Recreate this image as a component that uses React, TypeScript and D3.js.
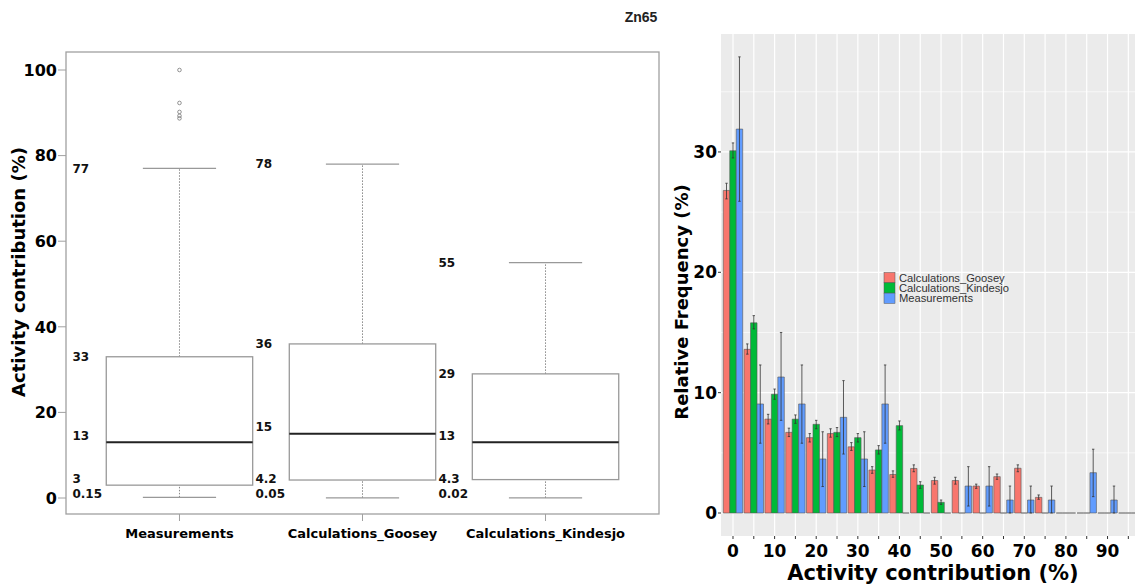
import React from 'react';
import * as d3 from 'd3';

// left panel: box plot summaries
const boxNames = ['Measurements', 'Calculations_Goosey', 'Calculations_Kindesjo'];
const boxMin = [0.15, 0.05, 0.02];
const boxQ1 = [3, 4.2, 4.3];
const boxMed = [13, 15, 13];
const boxQ3 = [33, 36, 29];
const boxMax = [77, 78, 55];
const boxOutliers = [[100, 92.3, 90.2, 89.3, 88.7], [], []];
const leftTicks = [0, 20, 40, 60, 80, 100];

// right panel: histogram, bins of 5
const bins = [0, 5, 10, 15, 20, 25, 30, 35, 40, 45, 50, 55, 60, 65, 70, 75, 80, 85, 90, 95];
const series = ['Calculations_Goosey', 'Calculations_Kindesjo', 'Measurements'];
const colors = ['#F8766D', '#00BA38', '#619CFF'];
const goosey = [26.8, 13.6, 7.8, 6.7, 6.26, 6.6, 5.5, 3.57, 3.2, 3.7, 2.7, 2.7, 2.24, 3.02, 3.72, 1.3, 0, 0, 0, 0];
const gooseyLo = [26.1, 13.2, 7.4, 6.35, 5.9, 6.3, 5.2, 3.3, 2.97, 3.43, 2.4, 2.4, 2.05, 2.8, 3.43, 1.14, null, null, null, null];
const gooseyHi = [27.4, 14.05, 8.2, 7.05, 6.6, 7.0, 5.85, 3.85, 3.5, 4.0, 2.97, 2.97, 2.4, 3.24, 4.0, 1.5, null, null, null, null];
const kindesjo = [30.1, 15.8, 9.87, 7.8, 7.37, 6.7, 6.26, 5.24, 7.26, 2.33, 0.89, 0, 0, 0, 0, 0, 0, 0, 0, 0];
const kindesjoLo = [29.5, 15.3, 9.45, 7.45, 7.0, 6.35, 5.9, 4.9, 6.9, 2.05, 0.72, null, null, null, null, null, null, null, null, null];
const kindesjoHi = [30.75, 16.4, 10.3, 8.15, 7.7, 7.1, 6.6, 5.6, 7.65, 2.6, 1.08, null, null, null, null, null, null, null, null, null];
const meas = [31.9, 9.06, 11.3, 9.06, 4.49, 7.95, 4.49, 9.06, 0, 0, 0, 2.24, 2.24, 1.08, 1.08, 1.08, 0, 3.35, 1.08, 0];
const measLo = [25.9, 5.8, 7.7, 5.8, 2.2, 4.9, 2.2, 5.8, null, null, null, 0.58, 0.58, 0, 0, 0, null, 1.36, 0, null];
const measHi = [37.9, 12.3, 15.0, 12.3, 6.75, 11.0, 6.75, 12.3, null, null, null, 3.85, 3.85, 2.24, 2.24, 2.24, null, 5.3, 2.24, null];
const rightYTicks = [0, 10, 20, 30];
const rightYMinor = [5, 15, 25, 35];
const rightXLabels = [0, 10, 20, 30, 40, 50, 60, 70, 80, 90];

const values = [goosey, kindesjo, meas];
const lows = [gooseyLo, kindesjoLo, measLo];
const highs = [gooseyHi, kindesjoHi, measHi];

const boldFont = '"DejaVu Sans", Verdana, sans-serif';
const sansFont = '"Liberation Sans", Arial, sans-serif';

function BoxPanel() {
  const x = d3.scaleLinear().domain([0.38, 3.62]).range([66, 659]);
  const y = d3.scaleLinear().domain([0, 100]).range([498, 70]);
  const half = x(1.4) - x(1);

  return (
    <g>
      <rect x={66} y={52} width={593} height={462} fill="none" stroke="#a0a0a0" strokeWidth={1.3} />
      {leftTicks.map(t => (
        <g key={t}>
          <line x1={58} x2={66} y1={y(t)} y2={y(t)} stroke="#a0a0a0" />
          <text x={57} y={y(t)} dy="0.36em" textAnchor="end" fontFamily={boldFont} fontWeight="bold" fontSize={16}>{t}</text>
        </g>
      ))}
      <text transform={`translate(19,272) rotate(-90)`} textAnchor="middle" dy="0.35em" fontFamily={boldFont} fontWeight="bold" fontSize={18}>Activity contribution (%)</text>
      {boxNames.map((name, i) => {
        const cx = x(i + 1);
        const lx = x(i + 1 - 0.585);
        const minLabelY = y(boxMin[i]) - 4;
        return (
          <g key={name}>
            <line x1={cx} x2={cx} y1={y(boxQ3[i])} y2={y(boxMax[i])} stroke="#888" strokeDasharray="1.5,1.5" />
            <line x1={cx} x2={cx} y1={y(boxMin[i])} y2={y(boxQ1[i])} stroke="#888" strokeDasharray="1.5,1.5" />
            <line x1={cx - half / 2} x2={cx + half / 2} y1={y(boxMax[i])} y2={y(boxMax[i])} stroke="#999" strokeWidth={1.3} />
            <line x1={cx - half / 2} x2={cx + half / 2} y1={y(boxMin[i])} y2={y(boxMin[i])} stroke="#999" strokeWidth={1.3} />
            <rect x={cx - half} y={y(boxQ3[i])} width={half * 2} height={y(boxQ1[i]) - y(boxQ3[i])} fill="white" stroke="#999" strokeWidth={1.3} />
            <line x1={cx - half} x2={cx + half} y1={y(boxMed[i])} y2={y(boxMed[i])} stroke="#222" strokeWidth={2} />
            {boxOutliers[i].map((o, j) => (
              <circle key={j} cx={cx} cy={y(o)} r={1.8} fill="none" stroke="#777" strokeWidth={0.8} />
            ))}
            <line x1={cx} x2={cx} y1={514} y2={521} stroke="#a0a0a0" />
            <text x={cx} y={538} textAnchor="middle" fontFamily={boldFont} fontWeight="bold" fontSize={13}>{name}</text>
            <g fontFamily={boldFont} fontWeight="bold" fontSize={12} fill="#111">
              <text x={lx} y={y(boxMax[i])} dy="0.35em">{boxMax[i]}</text>
              <text x={lx} y={y(boxQ3[i])} dy="0.35em">{boxQ3[i]}</text>
              <text x={lx} y={y(boxMed[i]) - 7} dy="0.35em">{boxMed[i]}</text>
              <text x={lx} y={minLabelY - 15} dy="0.35em">{boxQ1[i]}</text>
              <text x={lx} y={minLabelY} dy="0.35em">{boxMin[i]}</text>
            </g>
          </g>
        );
      })}
    </g>
  );
}

function HistPanel() {
  const left = 721, right = 1135, top = 34, bottom = 536;
  const x = d3.scaleLinear().domain([-2.88, 96.6]).range([left, right]);
  const y = d3.scaleLinear().domain([-1.91, 39.8]).range([bottom, top]);
  const barW = 1.555;
  const offsets = [-barW, 0, barW];

  return (
    <g>
      <rect x={left} y={top} width={right - left} height={bottom - top} fill="#EBEBEB" />
      {rightYMinor.map(t => (
        <line key={'m' + t} x1={left} x2={right} y1={y(t)} y2={y(t)} stroke="white" strokeWidth={0.6} />
      ))}
      {rightYTicks.map(t => (
        <line key={'g' + t} x1={left} x2={right} y1={y(t)} y2={y(t)} stroke="white" strokeWidth={1.2} />
      ))}
      {bins.map(b => (
        <line key={'v' + b} x1={x(b)} x2={x(b)} y1={top} y2={bottom} stroke="white" strokeWidth={1.2} />
      ))}
      {series.map((s, si) => (
        <g key={s}>
          {bins.map((b, bi) => {
            const v = values[si][bi];
            const x0 = x(b + offsets[si] - barW / 2);
            const x1 = x(b + offsets[si] + barW / 2);
            const path = d3.path();
            path.moveTo(x0, y(0));
            path.lineTo(x0, y(v));
            path.lineTo(x1, y(v));
            path.lineTo(x1, y(0));
            path.closePath();
            return <path key={b} d={path.toString()} fill={colors[si]} stroke="#555" strokeWidth={0.6} />;
          })}
        </g>
      ))}
      {series.map((s, si) => (
        <g key={'e' + s} stroke="#333" strokeWidth={0.8}>
          {bins.map((b, bi) => {
            const lo = lows[si][bi];
            const hi = highs[si][bi];
            if (lo === null || hi === null) return null;
            const cx = x(b + offsets[si]);
            return (
              <g key={b}>
                <line x1={cx} x2={cx} y1={y(lo)} y2={y(hi)} />
                <line x1={cx - 1.2} x2={cx + 1.2} y1={y(lo)} y2={y(lo)} />
                <line x1={cx - 1.2} x2={cx + 1.2} y1={y(hi)} y2={y(hi)} />
              </g>
            );
          })}
        </g>
      ))}
      {rightYTicks.map(t => (
        <g key={'yt' + t}>
          <line x1={718} x2={721} y1={y(t)} y2={y(t)} stroke="#333" />
          <text x={717} y={y(t)} dy="0.36em" textAnchor="end" fontFamily={boldFont} fontWeight="bold" fontSize={17}>{t}</text>
        </g>
      ))}
      {bins.map(b => (
        <line key={'xt' + b} x1={x(b)} x2={x(b)} y1={bottom} y2={bottom + 3} stroke="#333" />
      ))}
      {rightXLabels.map(t => (
        <text key={'xl' + t} x={x(t)} y={557} textAnchor="middle" fontFamily={boldFont} fontWeight="bold" fontSize={17}>{t}</text>
      ))}
      <text x={933} y={580} textAnchor="middle" fontFamily={boldFont} fontWeight="bold" fontSize={21}>Activity contribution (%)</text>
      <text transform={`translate(682,302) rotate(-90)`} textAnchor="middle" dy="0.35em" fontFamily={boldFont} fontWeight="bold" fontSize={18}>Relative Frequency (%)</text>
      {series.map((s, si) => (
        <g key={'lg' + s} transform={`translate(884,${272.5 + si * 10.3})`}>
          <rect x={0} y={0} width={11} height={10.3} fill={colors[si]} stroke="#555" strokeWidth={0.5} />
          <text x={15} y={9} fontFamily={sansFont} fontSize={11.2} fill="#333">{s}</text>
        </g>
      ))}
    </g>
  );
}

export default function App() {
  return (
    <svg width={1135} height={588} style={{ position: 'absolute', left: 0, top: 0, background: 'white' }}>
      <text x={641} y={22} textAnchor="middle" fontFamily={sansFont} fontWeight="bold" fontSize={14} fill="#222">Zn65</text>
      <BoxPanel />
      <HistPanel />
    </svg>
  );
}
